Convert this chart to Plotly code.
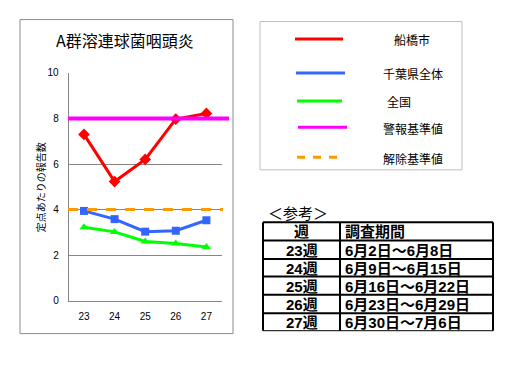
import plotly.graph_objects as go

# ---- data ----
weeks = ["23", "24", "25", "26", "27"]
funabashi = [7.30, 5.23, 6.20, 7.97, 8.22]
chiba = [3.94, 3.58, 3.03, 3.07, 3.53]
national = [3.22, 3.02, 2.60, 2.51, 2.36]
alert_level = 8.0
release_level = 4.0
y_ticks = [0, 2, 4, 6, 8, 10]

legend_labels = ["船橋市", "千葉県全体", "全国", "警報基準値", "解除基準値"]
table_header = ["週", "調査期間"]
table_weeks = ["23週", "24週", "25週", "26週", "27週"]
table_periods = ["6月2日～6月8日", "6月9日～6月15日", "6月16日～6月22日",
                 "6月23日～6月29日", "6月30日～7月6日"]

W, H = 531, 391
def px(x):
    return x / W
def py(y):
    return 1 - y / H

RED = "#FF0000"
BLUE = "#3366FF"
GREEN = "#00FF00"
MAGENTA = "#FF00FF"
ORANGE = "#FF9900"
JP = "Noto Sans CJK JP"
SANS = "Liberation Sans"
TABLE_FONT = "Liberation Sans, Noto Sans CJK JP"

fig = go.Figure()
fig.add_trace(go.Scatter(x=weeks, y=funabashi, mode="lines+markers",
                         line=dict(color=RED, width=3),
                         marker=dict(symbol="diamond", size=9, color=RED),
                         cliponaxis=False, showlegend=False))
fig.add_trace(go.Scatter(x=weeks, y=chiba, mode="lines+markers",
                         line=dict(color=BLUE, width=3),
                         marker=dict(symbol="square", size=8, color=BLUE),
                         cliponaxis=False, showlegend=False))
fig.add_trace(go.Scatter(x=weeks, y=national, mode="lines+markers",
                         line=dict(color=GREEN, width=3),
                         marker=dict(symbol="triangle-up", size=8, color=GREEN),
                         cliponaxis=False, showlegend=False))

shapes = []
annotations = []

def note(x, y, text, size, family=JP, xanchor="center", angle=0):
    annotations.append(dict(x=px(x), y=py(y), xref="paper", yref="paper",
                            text=text, showarrow=False, xanchor=xanchor,
                            yanchor="middle", textangle=angle, borderpad=0,
                            font=dict(family=family, size=size, color="#000")))

# chart border
shapes.append(dict(type="rect", xref="paper", yref="paper",
                   x0=px(20), x1=px(233), y0=py(338), y1=py(14),
                   line=dict(color="#8C8C8C", width=1), layer="below"))
# threshold lines
shapes.append(dict(type="line", xref="paper", yref="y",
                   x0=px(68), x1=px(229), y0=alert_level, y1=alert_level,
                   line=dict(color=MAGENTA, width=4)))
shapes.append(dict(type="line", xref="paper", yref="y",
                   x0=px(68), x1=px(223), y0=release_level, y1=release_level,
                   line=dict(color=ORANGE, width=3, dash="10px,9px")))

# data label
annotations.append(dict(x=weeks[-1], y=funabashi[-1], xref="x", yref="y",
                        text=f"{funabashi[-1]:.2f}", showarrow=False,
                        xshift=-5, yshift=21, yanchor="middle",
                        font=dict(family=SANS, size=13, color="#000")))
# title
note(125, 35, "A群溶連球菌咽頭炎", 16)
# y axis title
note(40, 187, "定点あたりの報告数", 10, angle=-90)

# legend box
shapes.append(dict(type="rect", xref="paper", yref="paper",
                   x0=px(260), x1=px(462), y0=py(169), y1=py(16),
                   line=dict(color="#BFBFBF", width=1)))
leg_rows = [34, 69, 98, 125, 156]
leg_colors = [RED, BLUE, GREEN, MAGENTA, ORANGE]
leg_x = [(295, 343), (296, 345), (297, 342), (298, 347), (297, 342)]
leg_tx = [412, 413, 399, 413, 413]
for i, lab in enumerate(legend_labels):
    dash = "8px,8px" if i == 4 else "solid"
    shapes.append(dict(type="line", xref="paper", yref="paper",
                       x0=px(leg_x[i][0]), x1=px(leg_x[i][1]),
                       y0=py(leg_rows[i]), y1=py(leg_rows[i]),
                       line=dict(color=leg_colors[i], width=3, dash=dash)))
    note(leg_tx[i], leg_rows[i] + 1, lab, 12)

# reference table
note(267, 213, "＜参考＞", 15, xanchor="left")
row_lines = [223, 242, 261, 279, 298, 317, 335]
col_l, col_m, col_r = 263, 340, 493
for i, yv in enumerate(row_lines):
    shapes.append(dict(type="line", xref="paper", yref="paper",
                       x0=px(col_l), x1=px(col_r), y0=py(yv), y1=py(yv),
                       line=dict(color="#000", width=2 if i < 6 else 1)))
for xv in (col_l, col_m, col_r):
    shapes.append(dict(type="line", xref="paper", yref="paper",
                       x0=px(xv), x1=px(xv), y0=py(row_lines[0]), y1=py(row_lines[-1]),
                       line=dict(color="#000", width=2)))
rows = [table_header] + [[w, p] for w, p in zip(table_weeks, table_periods)]
for i, (c1, c2) in enumerate(rows):
    yc = (row_lines[i] + row_lines[i + 1]) / 2 + 0.5
    note((col_l + col_m) / 2, yc, f"<b>{c1}</b>", 15, family=TABLE_FONT)
    note(col_m + 4, yc, f"<b>{c2}</b>", 15, family=TABLE_FONT, xanchor="left")

fig.update_layout(
    width=W, height=H,
    margin=dict(l=0, r=0, t=0, b=0),
    paper_bgcolor="white", plot_bgcolor="white",
    shapes=shapes, annotations=annotations,
    xaxis=dict(type="category", domain=[px(68.7), px(221.7)], range=[-0.5, 4.5],
               showgrid=False, showline=True, linecolor="#868686", linewidth=1,
               ticks="", ticklabelstandoff=6,
               tickfont=dict(family=SANS, size=10, color="#000"),
               fixedrange=True),
    yaxis=dict(domain=[py(304), py(69)], range=[0, 10], tickvals=y_ticks,
               showgrid=True, gridcolor="#868686", gridwidth=1,
               showline=True, linecolor="#868686", linewidth=1,
               zeroline=False, ticks="", ticklabelstandoff=7,
               tickfont=dict(family=SANS, size=10, color="#000"),
               fixedrange=True),
)

fig.write_html("out.html", config={"displayModeBar": False},
               post_script="document.body.style.margin='0';document.body.style.overflow='hidden';")
